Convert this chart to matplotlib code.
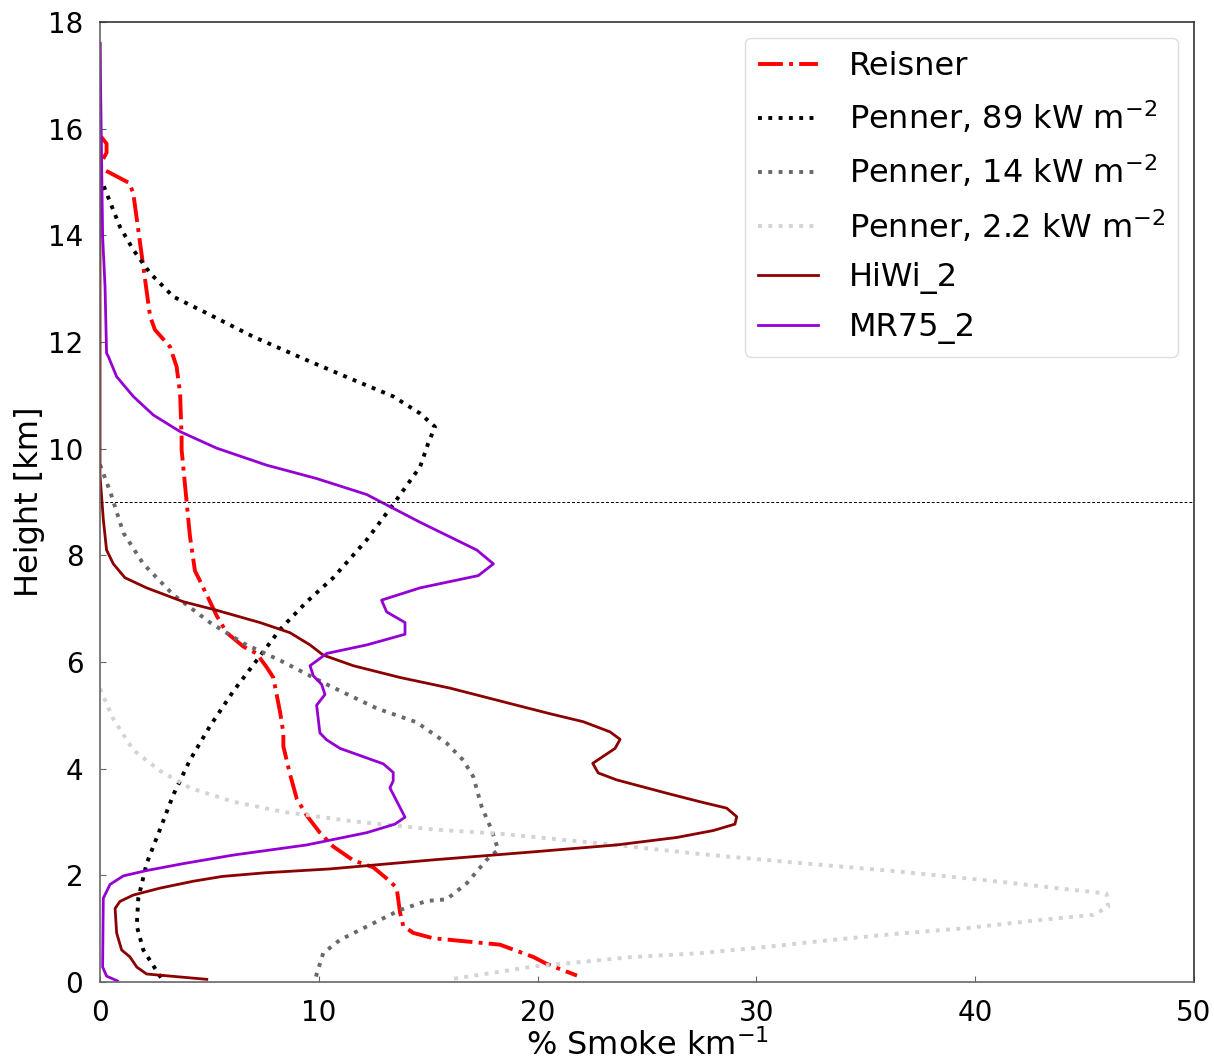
import matplotlib
matplotlib.use("Agg")
import matplotlib.pyplot as plt

# ---- data (x: % smoke per km, y: height km) ----
reisner_x = [0.05, 0.3, 0.3, 0.1, 0.0, 1.34, 1.52, 1.98, 2.29, 2.51, 3.2, 3.5, 3.66, 3.73, 3.73,
             3.96, 4.11, 4.34, 4.57, 5.03, 5.33, 5.79, 6.55, 7.16, 7.62, 7.92, 8.23, 8.38, 8.38,
             8.68, 8.99, 9.45, 10.05, 10.66, 11.58, 12.49, 13.25, 13.56, 13.71, 13.86, 14.32,
             15.23, 16.76, 18.28, 19.8, 20.41, 21.8]
reisner_y = [15.85, 15.72, 15.55, 15.4, 15.27, 14.98, 14.79, 13.41, 12.48, 12.23, 11.91, 11.54, 11.04,
             10.22, 9.98, 9.0, 8.36, 7.71, 7.52, 7.13, 6.87, 6.55, 6.29, 6.16, 5.9, 5.71, 5.06,
             4.67, 4.42, 3.9, 3.44, 3.12, 2.8, 2.54, 2.28, 2.15, 1.89, 1.76, 1.31, 1.05, 0.92,
             0.82, 0.76, 0.7, 0.47, 0.34, 0.12]

p89_x = [0.0, 0.91, 1.52, 2.29, 3.35, 4.88, 7.0, 9.45, 11.58, 13.4, 14.63, 15.31, 15.0, 14.63,
         13.48, 12.19, 10.66, 9.45, 8.23, 7.16, 6.09, 5.03, 4.11, 3.35, 2.74, 2.13, 1.75, 1.68,
         1.98, 2.88]
p89_y = [15.1, 14.16, 13.73, 13.29, 12.85, 12.54, 12.1, 11.66, 11.29, 10.98, 10.66, 10.41, 10.1,
         9.66, 9.0, 8.29, 7.58, 7.13, 6.61, 6.03, 5.45, 4.8, 4.16, 3.51, 2.86, 2.22, 1.57, 1.05,
         0.6, 0.02]

p14_x = [0.0, 0.46, 1.07, 1.98, 3.35, 5.03, 6.55, 8.23, 10.36, 12.65, 14.47, 15.84, 16.6, 17.06,
         17.44, 17.9, 18.2, 17.67, 16.76, 15.84, 14.93, 13.71, 12.19, 10.97, 10.2, 9.83]
p14_y = [9.7, 9.2, 8.42, 7.84, 7.26, 6.74, 6.35, 6.03, 5.58, 5.13, 4.87, 4.48, 4.16, 3.85, 3.29,
         2.85, 2.48, 2.29, 1.85, 1.55, 1.52, 1.35, 1.04, 0.79, 0.54, 0.05]

p22_x = [0.0, 0.61, 1.52, 2.74, 4.11, 6.09, 8.38, 11.43, 15.23, 18.28, 22.85, 27.42, 32.0, 36.56,
         41.13, 44.18, 46.0, 46.08, 45.4, 42.66, 39.6, 36.56, 33.5, 30.47, 27.42, 24.37, 19.8, 16.0]
p22_y = [5.5, 4.93, 4.35, 3.96, 3.64, 3.38, 3.19, 3.02, 2.86, 2.78, 2.6, 2.4, 2.23, 2.07, 1.88,
         1.74, 1.66, 1.41, 1.26, 1.15, 1.01, 0.91, 0.79, 0.66, 0.54, 0.47, 0.29, 0.05]

hiwi_x = [0.0, 0.0, 0.15, 0.3, 0.61, 1.14, 2.13, 3.81, 5.33, 7.31, 8.68, 9.6, 10.2, 11.58, 13.71,
          16.0, 17.52, 19.04, 20.57, 22.09, 23.31, 23.77, 23.54, 22.52, 22.77, 23.61, 25.9, 27.42,
          28.64, 29.1, 29.02, 28.03, 26.36, 23.61, 19.8, 15.23, 10.5, 7.62, 5.6, 4.27, 2.74, 1.52,
          0.91, 0.69, 0.76, 0.99, 1.37, 1.68, 2.13, 4.88]
hiwi_y = [17.6, 9.5, 8.68, 8.1, 7.84, 7.58, 7.39, 7.13, 6.97, 6.74, 6.55, 6.32, 6.13, 5.93, 5.71,
          5.51, 5.35, 5.19, 5.03, 4.88, 4.69, 4.55, 4.38, 4.1, 3.92, 3.79, 3.54, 3.38, 3.26, 3.1,
          2.96, 2.84, 2.71, 2.57, 2.44, 2.29, 2.12, 2.05, 1.98, 1.89, 1.76, 1.63, 1.51, 1.38, 0.92,
          0.6, 0.47, 0.28, 0.15, 0.05]

mr75_x = [0.0, 0.12, 0.23, 0.3, 0.38, 0.76, 1.52, 2.44, 3.66, 5.33, 7.62, 9.9, 12.19, 14.63,
          17.22, 17.98, 17.29, 14.63, 12.87, 13.1, 13.94, 13.94, 12.19, 10.36, 9.6, 9.75, 10.13,
          10.28, 9.9, 10.05, 10.36, 10.97, 12.95, 13.4, 13.4, 13.25, 13.94, 13.48, 12.19, 9.45,
          6.09, 3.81, 2.13, 1.07, 0.46, 0.15, 0.12, 0.3, 0.8]
mr75_y = [17.6, 13.98, 13.04, 11.79, 11.73, 11.35, 10.98, 10.63, 10.32, 10.01, 9.69, 9.44, 9.14,
          8.62, 8.1, 7.84, 7.62, 7.39, 7.16, 6.94, 6.74, 6.52, 6.32, 6.16, 5.93, 5.74, 5.58, 5.39,
          5.19, 4.67, 4.54, 4.38, 4.09, 3.93, 3.77, 3.64, 3.09, 2.96, 2.8, 2.57, 2.38, 2.22, 2.09,
          1.99, 1.83, 1.57, 0.28, 0.11, 0.02]

ref_height = 9.0

fig = plt.figure(figsize=(12.14, 10.63), dpi=100)
ax = fig.add_axes([100 / 1214, (1063 - 982) / 1063, 1094 / 1214, 960 / 1063])

ax.plot(reisner_x, reisner_y, color="red", linestyle="-.", lw=2.8, label="Reisner")
ax.plot(p89_x, p89_y, color="black", linestyle=":", lw=2.8, label=r"Penner, 89 kW m$^{-2}$")
ax.plot(p14_x, p14_y, color="dimgray", linestyle=":", lw=2.8, label=r"Penner, 14 kW m$^{-2}$")
ax.plot(p22_x, p22_y, color="lightgray", linestyle=":", lw=2.8, label=r"Penner, 2.2 kW m$^{-2}$")
ax.plot(hiwi_x, hiwi_y, color="darkred", linestyle="-", lw=2.0, label="HiWi_2")
ax.plot(mr75_x, mr75_y, color="darkviolet", linestyle="-", lw=2.0, label="MR75_2")
ax.axhline(ref_height, color="black", linestyle="--", lw=0.7, dashes=(3, 2))

ax.set_xlim(0, 50)
ax.set_ylim(0, 18)
ax.set_xticks([0, 10, 20, 30, 40, 50])
ax.set_yticks([0, 2, 4, 6, 8, 10, 12, 14, 16, 18])
ax.tick_params(direction="in", labelsize=20, length=4, color="#666666", pad=12)
for s in ax.spines.values():
    s.set_color("#666666")
    s.set_linewidth(1.2)
ax.spines["top"].set_color("#333333")
ax.spines["right"].set_color("#333333")

ax.set_xlabel(r"% Smoke km$^{-1}$", fontsize=23, labelpad=2)
ax.set_ylabel("Height [km]", fontsize=23, labelpad=2)

leg = ax.legend(loc="upper right", fontsize=23, handlelength=1.9, borderpad=0.4,
                labelspacing=0.55, handletextpad=0.95, framealpha=1.0, borderaxespad=0,
                bbox_to_anchor=((1178 - 100) / 1094, (982 - 38) / 960))
leg.get_frame().set_edgecolor("#dddddd")

fig.savefig("out.png", dpi=100)
